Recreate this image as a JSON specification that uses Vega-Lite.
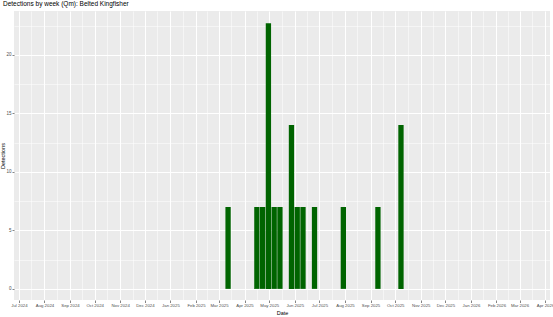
{
  "$schema": "https://vega.github.io/schema/vega-lite/v6.json",
  "autosize": {"type": "none"},
  "padding": {"left": 14, "top": 11, "right": 3, "bottom": 17},
  "width": 536,
  "height": 289,
  "background": "white",
  "title": {
    "text": "Detections by week (Qm): Belted Kingfisher",
    "anchor": "start",
    "frame": "group",
    "dx": -11,
    "offset": 4,
    "fontSize": 6.5,
    "fontWeight": "normal",
    "font": "Liberation Sans",
    "color": "#000000"
  },
  "config": {
    "view": {"fill": "#EBEBEB", "stroke": null},
    "font": "Liberation Sans"
  },
  "data": {
    "values": [
      {"week": "2025-03-12", "detections": 7},
      {"week": "2025-04-16", "detections": 7},
      {"week": "2025-04-23", "detections": 7},
      {"week": "2025-04-30", "detections": 22.7},
      {"week": "2025-05-07", "detections": 7},
      {"week": "2025-05-14", "detections": 7},
      {"week": "2025-05-28", "detections": 14},
      {"week": "2025-06-04", "detections": 7},
      {"week": "2025-06-11", "detections": 7},
      {"week": "2025-06-25", "detections": 7},
      {"week": "2025-07-30", "detections": 7},
      {"week": "2025-09-10", "detections": 7},
      {"week": "2025-10-08", "detections": 14}
    ]
  },
  "mark": {"type": "bar", "width": 5.3, "color": "#006400"},
  "encoding": {
    "x": {
      "field": "week",
      "type": "temporal",
      "title": "Date",
      "scale": {"domain": [{"year": 2024, "month": 6, "date": 25}, {"year": 2026, "month": 4, "date": 7}], "nice": false, "padding": 0},
      "axis": {
        "values": [
          {"year": 2024, "month": 7, "date": 1}, {"year": 2024, "month": 7, "date": 16},
          {"year": 2024, "month": 8, "date": 1}, {"year": 2024, "month": 8, "date": 16},
          {"year": 2024, "month": 9, "date": 1}, {"year": 2024, "month": 9, "date": 16},
          {"year": 2024, "month": 10, "date": 1}, {"year": 2024, "month": 10, "date": 16},
          {"year": 2024, "month": 11, "date": 1}, {"year": 2024, "month": 11, "date": 16},
          {"year": 2024, "month": 12, "date": 1}, {"year": 2024, "month": 12, "date": 16},
          {"year": 2025, "month": 1, "date": 1}, {"year": 2025, "month": 1, "date": 16},
          {"year": 2025, "month": 2, "date": 1}, {"year": 2025, "month": 2, "date": 15},
          {"year": 2025, "month": 3, "date": 1}, {"year": 2025, "month": 3, "date": 16},
          {"year": 2025, "month": 4, "date": 1}, {"year": 2025, "month": 4, "date": 16},
          {"year": 2025, "month": 5, "date": 1}, {"year": 2025, "month": 5, "date": 16},
          {"year": 2025, "month": 6, "date": 1}, {"year": 2025, "month": 6, "date": 16},
          {"year": 2025, "month": 7, "date": 1}, {"year": 2025, "month": 7, "date": 16},
          {"year": 2025, "month": 8, "date": 1}, {"year": 2025, "month": 8, "date": 16},
          {"year": 2025, "month": 9, "date": 1}, {"year": 2025, "month": 9, "date": 16},
          {"year": 2025, "month": 10, "date": 1}, {"year": 2025, "month": 10, "date": 16},
          {"year": 2025, "month": 11, "date": 1}, {"year": 2025, "month": 11, "date": 16},
          {"year": 2025, "month": 12, "date": 1}, {"year": 2025, "month": 12, "date": 16},
          {"year": 2026, "month": 1, "date": 1}, {"year": 2026, "month": 1, "date": 16},
          {"year": 2026, "month": 2, "date": 1}, {"year": 2026, "month": 2, "date": 15},
          {"year": 2026, "month": 3, "date": 1}, {"year": 2026, "month": 3, "date": 16},
          {"year": 2026, "month": 4, "date": 1}
        ],
        "labelExpr": "date(datum.value) === 1 ? timeFormat(datum.value, '%b %Y') : ''",
        "labelFontSize": 4.3,
        "labelColor": "#4D4D4D",
        "labelPadding": 1,
        "labelOverlap": false,
        "labelFlush": false,
        "tickSize": 2.5,
        "tickColor": "#333333",
        "tickWidth": 0.6,
        "tickOpacity": {"condition": {"test": "date(datum.value) !== 1", "value": 0}, "value": 1},
        "domain": false,
        "gridColor": "#FFFFFF",
        "gridWidth": {"condition": {"test": "date(datum.value) !== 1", "value": 0.5}, "value": 1},
        "titleFontSize": 5.5,
        "titleFontWeight": "normal",
        "titleColor": "#000000",
        "titlePadding": 2.5
      }
    },
    "y": {
      "field": "detections",
      "type": "quantitative",
      "title": "Detections",
      "scale": {"domain": [-0.95, 23.75], "nice": false, "zero": false, "padding": 0},
      "axis": {
        "values": [0, 2.5, 5, 7.5, 10, 12.5, 15, 17.5, 20, 22.5],
        "labelExpr": "datum.value % 5 === 0 ? format(datum.value, 'd') : ''",
        "labelFontSize": 4.5,
        "labelColor": "#4D4D4D",
        "labelPadding": 1,
        "tickSize": 2,
        "tickColor": "#333333",
        "tickWidth": 0.6,
        "tickOpacity": {"condition": {"test": "datum.value % 5 !== 0", "value": 0}, "value": 1},
        "domain": false,
        "gridColor": "#FFFFFF",
        "gridWidth": {"condition": {"test": "datum.value % 5 !== 0", "value": 0.5}, "value": 1},
        "titleFontSize": 5.5,
        "titleFontWeight": "normal",
        "titleColor": "#000000",
        "titlePadding": 0.5
      }
    }
  }
}
